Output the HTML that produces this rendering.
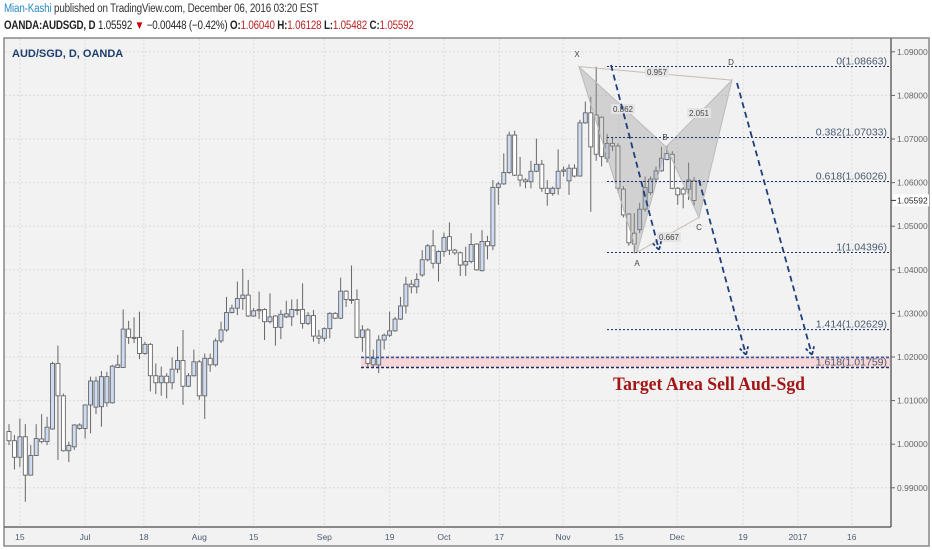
<!DOCTYPE html>
<html><head><meta charset="utf-8"><style>
body{margin:0;width:932px;height:550px;background:#fff;overflow:hidden;font-family:"Liberation Sans",sans-serif}
#hdr1{position:absolute;left:4px;top:3px;font-size:11.5px;color:#333;letter-spacing:-0.2px;transform:scaleX(0.855);transform-origin:0 0;white-space:nowrap}
#hdr2{position:absolute;left:4px;top:20px;font-size:11.5px;color:#222;letter-spacing:-0.2px;transform:scaleX(0.85);transform-origin:0 0;white-space:nowrap}
svg{position:absolute;left:0;top:0}
</style></head><body>
<div id="hdr1"><span style="color:#2a8ac6">Mian-Kashi</span> published on TradingView.com, December 06, 2016 03:20 EST</div>
<div id="hdr2"><b>OANDA:AUDSGD, D</b> 1.05592 <span style="color:#c00">▼</span> −0.00448 (−0.42%) <b>O:</b><span style="color:#b22">1.06040</span> <b>H:</b><span style="color:#b22">1.06128</span> <b>L:</b><span style="color:#b22">1.05482</span> <b>C:</b><span style="color:#b22">1.05592</span></div>
<svg id="chart" width="932" height="550">
<rect x="4" y="38" width="925" height="508" fill="#f2f2f2" stroke="#888" stroke-width="1.5"/>
<g id="grid"></g>
<rect x="361" y="356" width="530" height="11" fill="#f6d6d6"/>
<g id="candles"></g>
<g id="overlay"></g>
<line x1="891" y1="38" x2="891" y2="527" stroke="#666" stroke-width="1.5"/>
<line x1="4" y1="527" x2="891" y2="527" stroke="#666" stroke-width="1.5"/>
<g id="axes"></g>
<text x="12" y="57" font-size="11" font-weight="bold" fill="#1d3f6e">AUD/SGD, D, OANDA</text>
</svg>
<script>
const opens=[1.0029,1.0008,0.9970,1.0017,0.9929,0.9974,1.0012,1.0006,1.0035,1.0185,1.0111,0.9985,0.9994,1.0036,1.0036,1.0090,1.0085,1.0086,1.0095,1.0095,1.0176,1.0176,1.0264,1.0245,1.0245,1.0208,1.0229,1.0157,1.0141,1.0156,1.0141,1.0172,1.0192,1.0133,1.0157,1.0189,1.0111,1.0197,1.0182,1.0237,1.0262,1.0302,1.0312,1.0334,1.0342,1.0294,1.0306,1.0309,1.0281,1.0294,1.0268,1.0292,1.0292,1.0309,1.0309,1.0277,1.0295,1.0248,1.0243,1.0265,1.0300,1.0289,1.0351,1.0332,1.0332,1.0245,1.0262,1.0182,1.0182,1.0239,1.0250,1.0260,1.0287,1.0317,1.0367,1.0361,1.0388,1.0423,1.0455,1.0415,1.0442,1.0476,1.0445,1.0439,1.0411,1.0419,1.0459,1.0398,1.0465,1.0455,1.0589,1.0597,1.0623,1.0709,1.0617,1.0606,1.0602,1.0626,1.0642,1.0587,1.0575,1.0587,1.0626,1.0604,1.0633,1.0615,1.0737,1.0760,1.0755,1.0750,1.0656,1.0690,1.0684,1.0585,1.0528,1.0484,1.0492,1.0539,1.0577,1.0608,1.0627,1.0653,1.0665,1.0587,1.0585,1.0585,1.0604];
const highs=[1.0046,1.0021,1.0059,1.0046,0.9998,1.0046,1.0069,1.0063,1.0189,1.0226,1.0116,1.0006,1.0046,1.0048,1.0090,1.0155,1.0155,1.0168,1.0166,1.0182,1.0205,1.0309,1.0283,1.0291,1.0304,1.0235,1.0232,1.0185,1.0178,1.0163,1.0199,1.0224,1.0262,1.0163,1.0217,1.0193,1.0208,1.0208,1.0243,1.0281,1.0338,1.0320,1.0373,1.0402,1.0377,1.0312,1.0350,1.0312,1.0346,1.0296,1.0308,1.0329,1.0332,1.0333,1.0369,1.0303,1.0308,1.0262,1.0268,1.0303,1.0303,1.0382,1.0353,1.0410,1.0355,1.0273,1.0266,1.0217,1.0250,1.0254,1.0304,1.0292,1.0338,1.0384,1.0377,1.0392,1.0445,1.0459,1.0491,1.0445,1.0485,1.0509,1.0448,1.0442,1.0453,1.0484,1.0461,1.0491,1.0478,1.0606,1.0602,1.0667,1.0717,1.0719,1.0659,1.0610,1.0650,1.0701,1.0652,1.0606,1.0591,1.0676,1.0637,1.0642,1.0642,1.0744,1.0786,1.0797,1.0866,1.0752,1.0712,1.0705,1.0690,1.0592,1.0530,1.0530,1.0554,1.0614,1.0614,1.0637,1.0682,1.0684,1.0672,1.0590,1.0590,1.0646,1.0613];
const lows=[0.9998,0.9942,0.9948,0.9868,0.9929,0.9974,1.0002,0.9998,1.0033,0.9964,0.9983,0.9959,0.9987,1.0033,1.0013,1.0025,1.0069,1.0040,1.0086,1.0093,1.0175,1.0175,1.0230,1.0232,1.0195,1.0205,1.0121,1.0115,1.0111,1.0105,1.0126,1.0163,1.0090,1.0131,1.0155,1.0102,1.0058,1.0166,1.0178,1.0232,1.0258,1.0300,1.0296,1.0308,1.0292,1.0292,1.0287,1.0239,1.0277,1.0226,1.0241,1.0289,1.0271,1.0296,1.0265,1.0273,1.0235,1.0230,1.0235,1.0243,1.0287,1.0287,1.0315,1.0322,1.0243,1.0212,1.0178,1.0176,1.0163,1.0217,1.0246,1.0258,1.0285,1.0300,1.0346,1.0346,1.0384,1.0419,1.0403,1.0373,1.0430,1.0434,1.0434,1.0386,1.0386,1.0415,1.0398,1.0396,1.0424,1.0445,1.0549,1.0595,1.0620,1.0615,1.0591,1.0587,1.0587,1.0624,1.0579,1.0547,1.0570,1.0572,1.0614,1.0572,1.0612,1.0614,1.0735,1.0533,1.0650,1.0637,1.0646,1.0672,1.0577,1.0520,1.0455,1.0438,1.0484,1.0533,1.0572,1.0600,1.0625,1.0651,1.0585,1.0549,1.0541,1.0560,1.0548];
const closes=[1.0008,0.9970,1.0017,0.9929,0.9974,1.0013,1.0006,1.0039,1.0185,1.0111,0.9985,0.9997,1.0044,1.0044,1.0090,1.0145,1.0145,1.0155,1.0155,1.0179,1.0182,1.0264,1.0245,1.0243,1.0208,1.0229,1.0157,1.0141,1.0156,1.0141,1.0172,1.0192,1.0133,1.0157,1.0189,1.0111,1.0197,1.0182,1.0237,1.0262,1.0302,1.0312,1.0334,1.0342,1.0294,1.0306,1.0309,1.0281,1.0292,1.0268,1.0298,1.0299,1.0309,1.0309,1.0277,1.0295,1.0248,1.0243,1.0265,1.0300,1.0289,1.0351,1.0332,1.0331,1.0245,1.0262,1.0185,1.0197,1.0239,1.0250,1.0260,1.0287,1.0317,1.0367,1.0361,1.0378,1.0423,1.0455,1.0415,1.0442,1.0474,1.0445,1.0439,1.0411,1.0419,1.0458,1.0400,1.0465,1.0455,1.0589,1.0597,1.0623,1.0709,1.0617,1.0606,1.0602,1.0626,1.0642,1.0587,1.0575,1.0587,1.0626,1.0629,1.0633,1.0615,1.0737,1.0760,1.0682,1.0665,1.0660,1.0690,1.0684,1.0587,1.0526,1.0462,1.0459,1.0539,1.0589,1.0608,1.0627,1.0656,1.0667,1.0587,1.0572,1.0574,1.0606,1.0559];
const yTicks=[0.99,1.00,1.01,1.02,1.03,1.04,1.05,1.06,1.07,1.08,1.09];
const xTickLabels=["15","Jul","18","Aug","15","Sep","19","Oct","17","Nov","15","Dec","19","2017","16"];
const xTickIdx=[2,14,24.8,35,45,58,70,80,90.2,101.9,112.2,122.9,135,145.1,155];
const fibLevels=[1.08663,1.07033,1.06026,1.04396,1.02629,1.01759];
const fibNames=["0","0.382","0.618","1","1.414","1.618"];
const lastPrice=1.05592;

const NS="http://www.w3.org/2000/svg";
const X0=9,STEP=5.437;
function xs(i){return X0+i*STEP;}
function ys(p){return 357-(p-1.02)*4360;}
function mk(tag,attrs,parent){const e=document.createElementNS(NS,tag);for(const k in attrs)e.setAttribute(k,attrs[k]);parent.appendChild(e);return e;}
const grid=document.getElementById('grid'),axes=document.getElementById('axes'),cg=document.getElementById('candles'),ov=document.getElementById('overlay');
yTicks.forEach(v=>{const y=ys(v);
 const l=mk('line',{x1:5,x2:891,y1:y,y2:y,stroke:'#dcdcdc','stroke-dasharray':'2,2'},grid);
 
 
 mk('line',{x1:891,x2:895,y1:y,y2:y,stroke:'#666'},axes);
 const t=mk('text',{x:897,y:y+3,'font-size':'8.5',fill:'#666'},axes);t.textContent=v.toFixed(5);
 
 
});
xTickIdx.forEach((ix,k)=>{const x=xs(ix);
 const l=mk('line',{x1:x,x2:x,y1:39,y2:527,stroke:'#dcdcdc','stroke-dasharray':'2,2'},grid);
 
 
 const t=mk('text',{x:x,y:540,'font-size':'8.5',fill:'#4a5a70','text-anchor':'middle'},axes);t.textContent=xTickLabels[k];
 
 
});
opens.forEach((o,i)=>{const x=xs(i),c=closes[i],up=c>=o;
 const w=mk('line',{x1:x,x2:x,y1:ys(highs[i]),y2:ys(lows[i]),stroke:'#666','stroke-width':1},cg);
 
 
 const top=ys(Math.max(o,c)),bot=ys(Math.min(o,c));
 const b=mk('rect',{x:x-2,y:top,width:4,height:Math.max(1,bot-top),fill:up?'#cddcf2':'#fff',stroke:'#666','stroke-width':0.9},cg);
 
 
});
const P={X:[579,ys(1.0866)],A:[637,ys(1.0440)],B:[666,ys(1.0682)],C:[699,ys(1.0520)],D:[732,ys(1.0835)]};
function pt(a){return a.join(',');}
const t1=mk('polygon',{points:[P.X,P.A,P.B].map(pt).join(' '),fill:'rgba(150,150,150,0.35)',stroke:'#bbb'},ov);

const t2=mk('polygon',{points:[P.B,P.C,P.D].map(pt).join(' '),fill:'rgba(150,150,150,0.35)',stroke:'#bbb'},ov);

mk('line',{x1:P.X[0],y1:P.X[1],x2:P.D[0],y2:P.D[1],stroke:'#c8bcb0'},ov);
mk('line',{x1:P.A[0],y1:P.A[1],x2:P.C[0],y2:P.C[1],stroke:'#c8bcb0'},ov);
[['X',577,57],['A',637,266],['B',665,140],['C',699,230],['D',731,65]].forEach(a=>{const t=mk('text',{x:a[1],y:a[2],'font-size':'8',fill:'#444','text-anchor':'middle'},ov);t.textContent=a[0];
 });
[['0.957',657,75],['0.862',623,112],['2.051',699,116],['0.667',669,240]].forEach(a=>{
 mk('rect',{x:a[1]-12,y:a[2]-8,width:24,height:10,fill:'#e4e4e4',rx:2},ov);
 const t=mk('text',{x:a[1],y:a[2],'font-size':'8',fill:'#444','text-anchor':'middle'},ov);t.textContent=a[0];
 });
fibLevels.forEach((v,k)=>{const y=ys(v);const x1=k===5?361:607;
 const l=mk('line',{x1:x1,x2:891,y1:y,y2:y,stroke:'#1d2d5e','stroke-width':k===5?1.6:1,'stroke-dasharray':k===5?'3,2':'2,2'},ov);
 
 const t=mk('text',{x:887,y:y-2,'font-size':'10.5',fill:'#4a5a70','text-anchor':'end'},ov);t.textContent=fibNames[k]+'('+v.toFixed(5)+')';
 });
const bl=mk('line',{x1:361,x2:891,y1:ys(1.0199),y2:ys(1.0199),stroke:'#2a5ea8','stroke-width':1.6,'stroke-dasharray':'3,2'},ov);

[[611,65,659,250],[699,180,746,355],[737,83,812,355]].forEach(a=>{
 const l=mk('line',{x1:a[0],y1:a[1],x2:a[2],y2:a[3],stroke:'#1f3f7a','stroke-width':1.8,'stroke-dasharray':'6,4'},ov);
 
 const ang=Math.atan2(a[3]-a[1],a[2]-a[0]);const L=9;
 mk('polyline',{points:[[a[2]-L*Math.cos(ang-0.5),a[3]-L*Math.sin(ang-0.5)],[a[2],a[3]],[a[2]-L*Math.cos(ang+0.5),a[3]-L*Math.sin(ang+0.5)]].map(pt).join(' '),fill:'none',stroke:'#1f3f7a','stroke-width':1.8,'stroke-dasharray':'3,2'},ov);
});
const tg=mk('text',{x:613,y:390,'font-size':'19','font-weight':'bold','font-family':'Liberation Serif,serif',fill:'#a31515',textLength:192,lengthAdjust:'spacingAndGlyphs'},ov);
tg.textContent='Target Area Sell Aud-Sgd';

const ly=ys(lastPrice);
mk('rect',{x:893,y:ly-6,width:36,height:12,fill:'#fff'},axes);
mk('line',{x1:891,x2:896,y1:ly,y2:ly,stroke:'#333'},axes);
const lp=mk('text',{x:897,y:ly+3,'font-size':'8.5',fill:'#222'},axes);lp.textContent=lastPrice.toFixed(5);

</script>
</body></html>
